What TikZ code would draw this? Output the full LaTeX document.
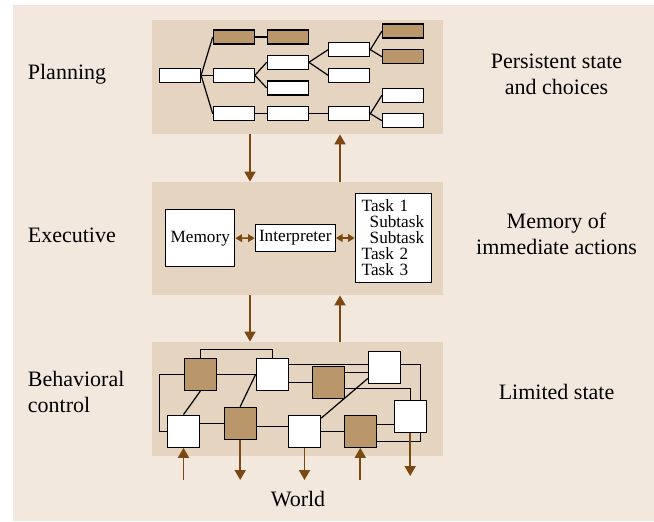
\documentclass[tikz,border=0pt]{standalone}
\usepackage{fontspec}
\setmainfont{Liberation Serif}
\usetikzlibrary{arrows.meta}
\definecolor{pagetan}{RGB}{243,232,222}
\definecolor{paneltan}{RGB}{228,212,192}
\definecolor{boxbrown}{RGB}{186,151,107}
\definecolor{arrowbrown}{RGB}{122,72,16}
\pgfdeclarelayer{bg}
\pgfdeclarelayer{wire}
\pgfsetlayers{bg,wire,main}
\tikzset{
  panel/.style={fill=paneltan, minimum width=145.5pt, minimum height=57pt, inner sep=0pt},
  planbox/.style={draw, line width=0.6pt, fill=white, minimum width=20.5pt, minimum height=7pt, inner sep=0pt},
  planboxb/.style={planbox, fill=boxbrown},
  cell/.style={draw, line width=0.6pt, fill=white, minimum size=16pt, inner sep=0pt},
  cellb/.style={cell, fill=boxbrown},
  execbox/.style={draw, line width=0.6pt, fill=white, inner sep=1.5pt, font=\fontsize{8.6}{8}\selectfont},
  sidetext/.style={inner sep=0pt, font=\fontsize{11}{13}\selectfont},
  link/.style={line width=0.6pt},
  flow/.style={arrowbrown, line width=0.9pt, -{Triangle[width=5.5pt,length=5pt]}},
  twoway/.style={arrowbrown, line width=0.8pt, {Triangle[width=3.8pt,length=3.3pt]}-{Triangle[width=3.8pt,length=3.3pt]}}
}

\begin{document}
\begin{tikzpicture}[x=0.5pt, y=-0.5pt]
\useasboundingbox (0,0) rectangle (654,521);
\begin{pgfonlayer}{bg}
  \fill[pagetan] (13,5) rectangle (654,521);
  \node[panel] (plan) at (297.5,77) {};
  \node[panel, minimum height=56.5pt] (exec) at (297.5,238.5) {};
  \node[panel] (behav) at (297.5,399) {};
\end{pgfonlayer}

% labels
\node[sidetext, anchor=west] (lplan) at (27.5,74) {Planning};
\node[sidetext, anchor=west] (lexec) at (27.5,235) {Executive};
\node[sidetext, anchor=west, align=left] (lbehav) at (27.5,392) {Behavioral\\control};
\node[sidetext, align=center] (rplan) at (556.5,74) {Persistent state\\and choices};
\node[sidetext, align=center] (rexec) at (556.5,234) {Memory of\\immediate actions};
\node[sidetext] (rbehav) at (556.5,392) {Limited state};
\node[sidetext] (world) at (298,499) {World};

% planning tree
\node[planbox] (p0) at (180,75.3) {};
\node[planboxb] (p1a) at (233.8,37) {};
\node[planbox] (p1b) at (233.8,75.3) {};
\node[planbox] (p1c) at (233.8,113.7) {};
\node[planboxb] (p2a) at (287.8,37) {};
\node[planbox] (p2b) at (287.8,62.3) {};
\node[planbox] (p2c) at (287.8,88) {};
\node[planbox] (p2d) at (287.8,113.7) {};
\node[planbox] (p3a) at (349.2,49.7) {};
\node[planbox] (p3b) at (349.2,75.3) {};
\node[planbox] (p3c) at (349.2,113.7) {};
\node[planboxb] (p4a) at (403,31) {};
\node[planboxb] (p4b) at (403,56.7) {};
\node[planbox] (p4c) at (403,95.3) {};
\node[planbox] (p4d) at (403,120.7) {};
\foreach \a/\b in {p0/p1a,p0/p1b,p0/p1c,p1a/p2a,p1b/p2b,p1b/p2c,p1c/p2d,p2b/p3a,p2b/p3b,p2d/p3c,p3a/p4a,p3a/p4b,p3c/p4c,p3c/p4d}
  \draw[link] (\a.east) -- (\b.west);

% executive
\node[execbox, minimum width=34.5pt, minimum height=28.5pt] (mem) at (200.3,238.3) {Memory};
\node[execbox, minimum width=40pt, minimum height=13.7pt] (interp) at (295.3,238) {Interpreter};
\node[execbox, align=left, text width=31.8pt, inner xsep=3.2pt, minimum height=44.7pt] (tasks) at (393.5,238)
  {Task 1\\\hspace*{4pt}Subtask\\\hspace*{4pt}Subtask\\Task 2\\Task 3};
\draw[twoway] (mem) -- (interp);
\draw[twoway] (interp) -- (tasks);

% behavioral control
\node[cellb] (n1) at (200.3,374.5) {};
\node[cell] (n2) at (272.2,374.5) {};
\node[cellb] (n3) at (328.3,382.3) {};
\node[cell] (n4) at (384.5,367.2) {};
\node[cell] (n5) at (183.5,431.2) {};
\node[cellb] (n6) at (240.2,423.2) {};
\node[cell] (n7) at (304.5,431.2) {};
\node[cellb] (n8) at (360.3,431.2) {};
\node[cell] (n9) at (410.2,416.2) {};
\begin{pgfonlayer}{wire}
  \draw[link] (n1.north) -- ++(0,-8.6) -| (n2.north);
  \draw[link] (n1.west) -- ++(-24.6,0) |- (n5.west);
  \draw[link] (n1.east) -- (n2.west);
  \draw[link] (n1.south) -- (n5.north);
  \draw[link] (n2.west) -- (n6.north);
  \draw[link] (n4.170) -- (n4.170 -| n2.east);
  \draw[link] (n3.west) -- (n3.west -| n2.east);
  \draw[link] (n3.30) -- (n3.30 -| n4.west);
  \draw[link] (n3.340) -| (n9.north);
  \draw[link] (n4.10) -- ++(19.3,0) |- (n8.329);
  \draw[link] (n4.214) -- (n7.38);
  \draw[link] (n6.west) -- (n6.west -| n5.east);
  \draw[link] (n6.348) -- (n6.348 -| n7.west);
  \draw[link] (n7.east) -- (n8.west);
  \draw[link] (n8.23) -- (n8.23 -| n9.west);
\end{pgfonlayer}

% arrows between layers
\coordinate (dnx) at (250,0);
\coordinate (upx) at (340,0);
\draw[flow] (dnx |- plan.south) -- (dnx |- exec.north);
\draw[flow] (upx |- exec.north) -- (upx |- plan.south);
\draw[flow] (dnx |- exec.south) -- (dnx |- behav.north);
\draw[flow] (upx |- behav.north) -- (upx |- exec.south);

% world
\coordinate (wy) at (0,480);
\coordinate (wy2) at (0,476);
\draw[flow] (n5.south |- wy) -- (n5.south);
\draw[flow] (n6.south) -- (n6.south |- wy);
\draw[flow] (n7.south) -- (n7.south |- wy);
\draw[flow] (n8.south |- wy) -- (n8.south);
\draw[flow] (n9.south) -- (n9.south |- wy2);
\end{tikzpicture}
\end{document}
